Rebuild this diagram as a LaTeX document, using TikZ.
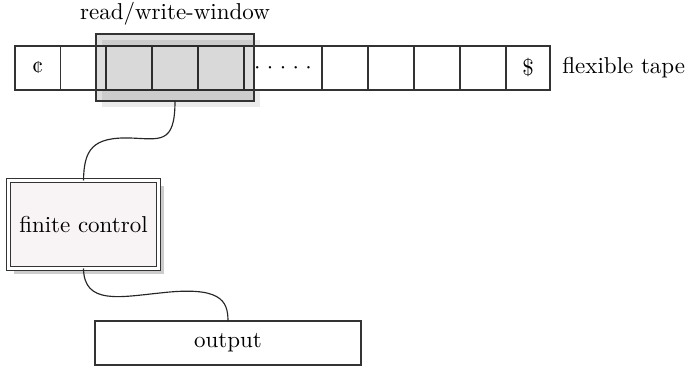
\documentclass[tikz,border=0pt]{standalone}
\usetikzlibrary{shadows}
\definecolor{fcfill}{RGB}{248,244,245}
\begin{document}
\begin{tikzpicture}[x=0.435pt,y=-0.435pt,
  cell/.style={draw=black!80,line width=0.5pt,fill=white,inner sep=0pt,outer sep=0pt,minimum height=44*0.435pt},
  wcell/.style={cell,fill=black!2,line width=0.8pt},
  shad/.style={drop shadow={shadow xshift=2.6pt,shadow yshift=-2.6pt,fill=black!20,opacity=1}},
  lbl/.style={inner sep=0pt,font=\normalsize},
  conn/.style={draw=black!85,line width=0.5pt}]
\useasboundingbox (0,0) rectangle (687,368);
% window shadow (behind the tape)
\fill[black!8] (102,40) rectangle (260,107);
% tape cells
\node[cell,minimum width=45.5*0.435pt] (c1) at (37.75,68) {¢};
\node[cell,minimum width=45.5*0.435pt] (c2) at (83.25,68) {};
\node[wcell,minimum width=46*0.435pt] (c3) at (129,68) {};
\node[wcell,minimum width=46*0.435pt] (c4) at (175,68) {};
\node[wcell,minimum width=46*0.435pt] (c5) at (221,68) {};
\node[cell,minimum width=78*0.435pt] (c6) at (283,68) {$\cdot$\hspace{2.8pt}$\cdot$\hspace{2.8pt}$\cdot$\hspace{2.8pt}$\cdot$\hspace{2.8pt}$\cdot$};
\node[cell,minimum width=46*0.435pt] (c7) at (345,68) {};
\node[cell,minimum width=46*0.435pt] (c8) at (391,68) {};
\node[cell,minimum width=46*0.435pt] (c9) at (437,68) {};
\node[cell,minimum width=46*0.435pt] (c10) at (483,68) {};
\node[cell,minimum width=44*0.435pt] (c11) at (528,68) {\$};
% read/write window
\node[draw=black!80,line width=0.5pt,fill=black,fill opacity=0.13,
  inner sep=0pt,outer sep=0pt,minimum width=158*0.435pt,minimum height=67*0.435pt] (w) at (175,67.5) {};
\node[lbl] (wl) at (175,14) {read/write-window};
\node[lbl,anchor=west] (tl) at (562,68) {flexible tape};
% finite control
\node[draw=black!80,double=white,double distance=1.2pt,line width=0.5pt,
  fill=fcfill,shad,inner sep=0pt,outer sep=0pt,
  minimum width=150*0.435pt,minimum height=88*0.435pt] (fc) at (83.5,224.5) {finite control};
% output
\node[cell,minimum width=266*0.435pt,minimum height=44*0.435pt] (out) at (228,343) {output};
% connectors
\draw[conn] (w.south) .. controls (175,145) and (160,139) .. (130,138) .. controls (92,137) and (84,150) .. (fc.north);
\draw[conn] (fc.south) .. controls (84,305) and (120,297) .. (160,293) .. controls (220,286) and (228,300) .. (out.north);
\end{tikzpicture}
\end{document}
